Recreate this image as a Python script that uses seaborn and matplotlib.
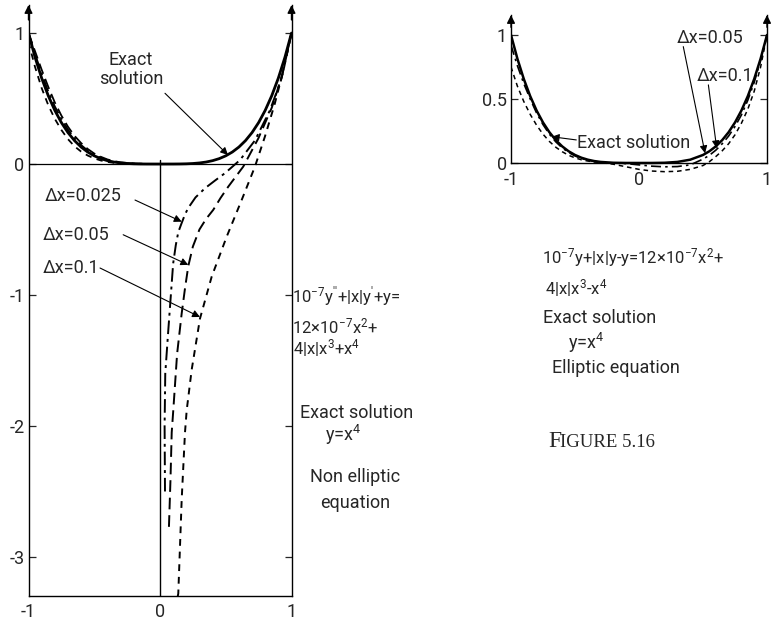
import matplotlib
matplotlib.use("Agg")
import matplotlib.pyplot as plt
import pandas as pd
import seaborn as sns

sns.set_style("white")
plt.rcParams['font.family'] = ['Roboto', 'DejaVu Sans']
plt.rcParams['mathtext.fontset'] = 'custom'
plt.rcParams['mathtext.rm'] = 'Roboto'
plt.rcParams['mathtext.it'] = 'Roboto'
plt.rcParams['mathtext.default'] = 'regular'

# ---------------- data: left panel (non elliptic) ----------------
exact_x = [-1.0, -0.95, -0.9, -0.85, -0.8, -0.75, -0.7, -0.65, -0.6, -0.55, -0.5, -0.45, -0.4,
           -0.35, -0.3, -0.25, -0.2, -0.15, -0.1, -0.05, 0.0, 0.05, 0.1, 0.15, 0.2, 0.25, 0.3,
           0.35, 0.4, 0.45, 0.5, 0.55, 0.6, 0.65, 0.7, 0.75, 0.8, 0.85, 0.9, 0.95, 1.0]
exact_y = [1.0, 0.8145, 0.6561, 0.522, 0.4096, 0.3164, 0.2401, 0.1785, 0.1296, 0.0915, 0.0625,
           0.041, 0.0256, 0.015, 0.0081, 0.0039, 0.0016, 0.0005, 0.0001, 0.0, 0.0, 0.0, 0.0001,
           0.0005, 0.0016, 0.0039, 0.0081, 0.015, 0.0256, 0.041, 0.0625, 0.0915, 0.1296, 0.1785,
           0.2401, 0.3164, 0.4096, 0.522, 0.6561, 0.8145, 1.0]

neg_x = [-1.0, -0.95, -0.9, -0.85, -0.8, -0.75, -0.7, -0.65, -0.6, -0.55, -0.5, -0.45, -0.4,
         -0.35, -0.3, -0.2, -0.1, 0.0]
dx025_neg_y = [1.0, 0.84, 0.69, 0.555, 0.44, 0.345, 0.263, 0.197, 0.145, 0.103, 0.071, 0.048,
               0.03, 0.018, 0.01, 0.003, 0.0005, 0.0]
dx05_neg_y = [1.0, 0.86, 0.72, 0.59, 0.47, 0.37, 0.285, 0.215, 0.16, 0.115, 0.08, 0.055, 0.035,
              0.022, 0.013, 0.004, 0.001, 0.0]
dx1_neg_y = [0.93, 0.74, 0.58, 0.45, 0.345, 0.26, 0.19, 0.135, 0.095, 0.065, 0.043, 0.027, 0.016,
             0.009, 0.005, 0.001, 0.0, 0.0]

dx025_pos_x = [0.038, 0.035, 0.04, 0.063, 0.10, 0.12, 0.139, 0.165, 0.19, 0.215, 0.27, 0.342,
               0.42, 0.494, 0.608, 0.722, 0.836, 0.92, 1.0]
dx025_pos_y = [-2.50, -2.0, -1.6, -1.27, -0.76, -0.62, -0.52, -0.45, -0.385, -0.335, -0.255,
               -0.185, -0.125, -0.07, 0.03, 0.18, 0.41, 0.64, 1.0]
dx05_pos_x = [0.068, 0.08, 0.089, 0.101, 0.13, 0.165, 0.19, 0.215, 0.25, 0.30, 0.35, 0.405,
              0.46, 0.519, 0.633, 0.748, 0.85, 0.93, 1.0]
dx05_pos_y = [-2.77, -2.4, -2.05, -1.88, -1.45, -1.14, -0.95, -0.78, -0.63, -0.50, -0.42, -0.35,
              -0.26, -0.173, -0.02, 0.196, 0.43, 0.68, 1.0]
dx1_pos_x = [0.135, 0.139, 0.165, 0.19, 0.203, 0.241, 0.304, 0.393, 0.507, 0.621, 0.722, 0.798,
             0.87, 0.94, 1.0]
dx1_pos_y = [-3.30, -3.28, -2.56, -2.05, -1.88, -1.57, -1.18, -0.86, -0.555, -0.275, -0.02, 0.21,
             0.45, 0.72, 1.0]

left_yticks = [-3, -2, -1, 0, 1]
left_ytick_labels = ["-3", "-2", "-1", "0", "1"]
xticks = [-1, 0, 1]
xtick_labels = ["-1", "0", "1"]

# ---------------- data: right panel (elliptic) ----------------
ell_x = [-1.0, -0.95, -0.9, -0.85, -0.8, -0.75, -0.7, -0.65, -0.6, -0.55, -0.5, -0.45, -0.4,
         -0.35, -0.3, -0.2, -0.1, 0.0, 0.1, 0.2, 0.3, 0.4, 0.5, 0.55, 0.6, 0.65, 0.7, 0.75,
         0.8, 0.85, 0.9, 0.95, 1.0]
ell_exact_y = [1.0, 0.8145, 0.6561, 0.522, 0.4096, 0.3164, 0.2401, 0.1785, 0.1296, 0.0915,
               0.0625, 0.041, 0.0256, 0.015, 0.0081, 0.0016, 0.0001, 0.0, 0.0001, 0.0016, 0.0081,
               0.0256, 0.0625, 0.0915, 0.1296, 0.1785, 0.2401, 0.3164, 0.4096, 0.522, 0.6561,
               0.8145, 1.0]
ell_dx05_y = [0.92, 0.76, 0.62, 0.50, 0.39, 0.30, 0.225, 0.165, 0.118, 0.082, 0.055, 0.035,
              0.021, 0.012, 0.006, 0.0, -0.005, -0.015, -0.025, -0.03, -0.028, -0.015, 0.03,
              0.06, 0.10, 0.15, 0.21, 0.285, 0.375, 0.49, 0.63, 0.80, 1.0]
ell_dx1_y = [0.75, 0.60, 0.48, 0.38, 0.295, 0.225, 0.168, 0.123, 0.088, 0.06, 0.04, 0.025,
             0.015, 0.008, 0.004, -0.01, -0.03, -0.05, -0.063, -0.068, -0.065, -0.05, -0.02,
             0.01, 0.05, 0.095, 0.15, 0.22, 0.31, 0.42, 0.56, 0.75, 1.0]
right_yticks = [0, 0.5, 1]
right_ytick_labels = ["0", "0.5", "1"]

W, H = 771, 625
fig = plt.figure(figsize=(W / 100, H / 100), dpi=100)
fig.patch.set_facecolor("white")

FS = 13
FFS = 12
ARROW = dict(arrowstyle="-|>", color="black", lw=0.8, mutation_scale=11, shrinkA=0, shrinkB=0)


def px(x, y):
    return x / W, 1 - y / H


def line(ax, xs, ys, ls, lw):
    df = pd.DataFrame({"x": xs, "y": ys})
    sns.lineplot(data=df, x="x", y="y", ax=ax, color="black", lw=lw, linestyle=ls,
                 estimator=None, sort=False, errorbar=None)


# ---------------- left panel ----------------
axL = fig.add_axes([28.5 / W, 1 - 596 / H, 263 / W, 591 / H])
axL.set_xlim(-1, 1)
axL.set_ylim(-3.298, 1.214)

DD = (0, (7, 2.5, 1.5, 2.5))
LD = (0, (6, 3))
SD = (0, (3.5, 3))

line(axL, exact_x, exact_y, "-", 2.0)
line(axL, neg_x, dx025_neg_y, DD, 1.3)
line(axL, neg_x, dx05_neg_y, LD, 1.3)
line(axL, neg_x, dx1_neg_y, SD, 1.3)
line(axL, dx025_pos_x, dx025_pos_y, DD, 1.4)
line(axL, dx05_pos_x, dx05_pos_y, LD, 1.4)
line(axL, dx1_pos_x, dx1_pos_y, SD, 1.4)

axL.axhline(0, color="black", lw=0.9)
axL.axvline(0, ymin=0, ymax=(0.03 + 3.298) / (1.214 + 3.298), color="black", lw=1.0)

axL.spines["top"].set_visible(False)
for s in ["left", "right", "bottom"]:
    axL.spines[s].set_color("black")
    axL.spines[s].set_linewidth(1.0)

axL.set_yticks(left_yticks)
axL.set_yticklabels(left_ytick_labels, fontsize=FS)
axL.set_xticks(xticks)
axL.set_xticklabels(xtick_labels, fontsize=FS)
axL.tick_params(axis="y", direction="in", length=5, width=0.9, left=True, right=True,
                labelleft=True, labelright=False, pad=3)
axL.tick_params(axis="x", length=0, pad=5)
axL.set_xlabel("")
axL.set_ylabel("")

for xa in (-1, 1):
    axL.annotate("", xy=(xa, 1.214), xytext=(xa, 1.10), annotation_clip=False,
                 arrowprops=dict(arrowstyle="-|>", color="black", lw=1.0, mutation_scale=12,
                                 shrinkA=0, shrinkB=0))

axL.text(-0.22, 0.72, "Exact\nsolution", ha="center", va="center", fontsize=FS,
         linespacing=1.1)
axL.annotate("", xy=(0.517, 0.069), xytext=(0.038, 0.54), arrowprops=ARROW)

axL.text(-0.875, -0.244, "\u0394x=0.025", ha="left", va="center", fontsize=FS)
axL.annotate("", xy=(0.165, -0.44), xytext=(-0.19, -0.275), arrowprops=ARROW)
axL.text(-0.89, -0.54, "\u0394x=0.05", ha="left", va="center", fontsize=FS)
axL.annotate("", xy=(0.215, -0.77), xytext=(-0.28, -0.54), arrowprops=ARROW)
axL.text(-0.89, -0.794, "\u0394x=0.1", ha="left", va="center", fontsize=FS)
axL.annotate("", xy=(0.304, -1.168), xytext=(-0.456, -0.794), arrowprops=ARROW)

# text block for left panel
fig.text(*px(292, 297), r"10$^{-7}$y$''$+|x|y$'$+y=", fontsize=FFS, va="center")
fig.text(*px(292, 326), r"12$\times$10$^{-7}$x$^{2}$+", fontsize=FFS, va="center")
fig.text(*px(293, 348), r"4|x|x$^{3}$+x$^{4}$", fontsize=FFS, va="center")
fig.text(*px(300, 413), "Exact solution", fontsize=FS, va="center")
fig.text(*px(325, 435), r"y=x$^{4}$", fontsize=FS, va="center")
fig.text(*px(310, 477), "Non elliptic", fontsize=FS, va="center")
fig.text(*px(320, 503), "equation", fontsize=FS, va="center")

# ---------------- right panel ----------------
axR = fig.add_axes([511 / W, 1 - 175 / H, 256 / W, 160 / H])
axR.set_xlim(-1, 1)
axR.set_ylim(-0.094, 1.156)
line(axR, ell_x, ell_exact_y, "-", 1.8)
line(axR, ell_x, ell_dx05_y, (0, (6, 2.5, 1.5, 2.5)), 1.2)
line(axR, ell_x, ell_dx1_y, (0, (3, 2.5)), 1.1)

axR.spines["top"].set_visible(False)
axR.spines["bottom"].set_position(("data", 0))
for s in ["left", "right"]:
    axR.spines[s].set_bounds(0, 1.156)
for s in ["left", "right", "bottom"]:
    axR.spines[s].set_color("black")
    axR.spines[s].set_linewidth(1.0)
axR.set_yticks(right_yticks)
axR.set_yticklabels(right_ytick_labels, fontsize=FS)
axR.set_xticks(xticks)
axR.set_xticklabels(xtick_labels, fontsize=FS)
axR.tick_params(axis="y", direction="in", length=5, width=0.9, left=True, right=True,
                labelleft=True, labelright=False, pad=3)
axR.tick_params(axis="x", length=0, pad=6)
axR.set_xlabel("")
axR.set_ylabel("")
for xa in (-1, 1):
    axR.annotate("", xy=(xa, 1.156), xytext=(xa, 1.06), annotation_clip=False,
                 arrowprops=dict(arrowstyle="-|>", color="black", lw=1.0, mutation_scale=12,
                                 shrinkA=0, shrinkB=0))

axR.text(-0.484, 0.156, "Exact solution", ha="left", va="center", fontsize=FS)
axR.annotate("", xy=(-0.682, 0.205), xytext=(-0.49, 0.18), arrowprops=ARROW)
axR.text(0.295, 0.977, "\u0394x=0.05", ha="left", va="center", fontsize=FS)
axR.annotate("", xy=(0.516, 0.076), xytext=(0.346, 0.909), arrowprops=ARROW)
axR.text(0.45, 0.68, "\u0394x=0.1", ha="left", va="center", fontsize=FS)
axR.annotate("", xy=(0.607, 0.115), xytext=(0.542, 0.61), arrowprops=ARROW)

fig.text(*px(542, 258), r"10$^{-7}$y+|x|y-y=12$\times$10$^{-7}$x$^{2}$+", fontsize=FFS,
         va="center")
fig.text(*px(545, 288), r"4|x|x$^{3}$-x$^{4}$", fontsize=FFS, va="center")
fig.text(*px(543, 318), "Exact solution", fontsize=FS, va="center")
fig.text(*px(568, 343), r"y=x$^{4}$", fontsize=FS, va="center")
fig.text(*px(552, 368), "Elliptic equation", fontsize=FS, va="center")

fig.text(*px(548, 447), "F", fontsize=17, va="baseline", family=["Liberation Serif"])
fig.text(*px(560, 447), "IGURE 5.16", fontsize=13.5, va="baseline", family=["Liberation Serif"])

fig.savefig("out.png", dpi=100, facecolor="white")
